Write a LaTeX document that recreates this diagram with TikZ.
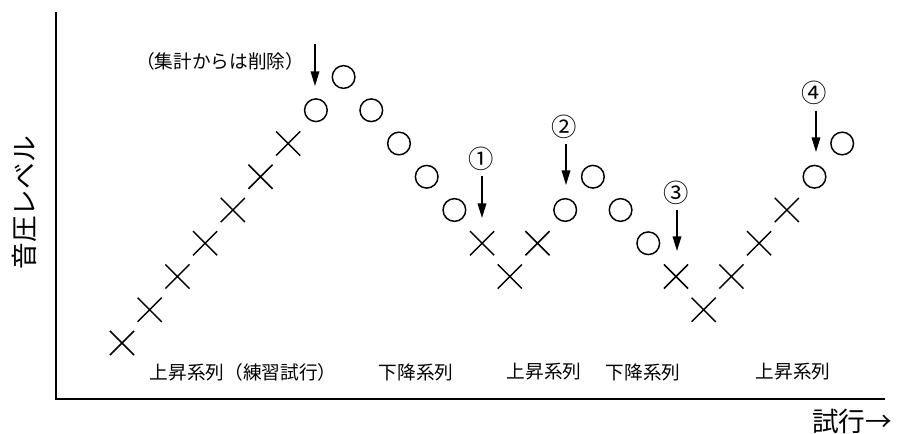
\documentclass[tikz,border=0pt]{standalone}
\usepackage{fontspec}
\setmainfont{Noto Sans CJK JP}
\usetikzlibrary{shapes.misc,arrows.meta}
\begin{document}
\begin{tikzpicture}[x=0.75pt,y=-0.75pt,
  xmark/.style={draw,cross out,minimum size=17pt,inner sep=0pt,line width=1.1pt},
  omark/.style={draw,circle,minimum size=17pt,inner sep=0pt,line width=1.1pt},
  axisline/.style={line width=1.4pt},
  pointer/.style={line width=1.1pt,-{Triangle[length=11pt,width=6.5pt]}},
  lab/.style={font=\fontsize{14}{16}\selectfont,inner sep=0pt},
  numlab/.style={font=\fontsize{19}{21}\selectfont,inner sep=0pt},
  biglab/.style={font=\fontsize{20}{22}\selectfont,inner sep=0pt}]
\useasboundingbox (0,0) rectangle (897,434);
% axes
\coordinate (origin) at (56,399);
\coordinate (ytop) at (56,12);
\coordinate (xend) at (885,399);
\draw[axisline] (ytop) -- (origin) -- (xend);
% markers
\foreach \i/\l/\t in {0/0/x,1/1/x,2/2/x,3/3/x,4/4/x,5/5/x,6/6/x,7/7/o,8/8/o,9/7/o,10/6/o,11/5/o,12/4/o,13/3/x,14/2/x,15/3/x,16/4/o,17/5/o,18/4/o,19/3/o,20/2/x,21/1/x,22/2/x,23/3/x,24/4/x,25/5/o,26/6/o}{
  \node[\t mark] (m\i) at ({122+27.7*\i},{343-33.25*\l}) {};
}
% annotations
\node[lab] (excl) at (220,61) {（集計からは削除）};
\coordinate (a0s) at (315,44);
\coordinate (a0e) at (315,86);
\draw[pointer] (a0s) -- (a0e);
\node[numlab] (n1) at (481,159) {①};
\coordinate (a1s) at (482,176);
\coordinate (a1e) at (482,218);
\draw[pointer] (a1s) -- (a1e);
\node[numlab] (n2) at (564,127) {②};
\coordinate (a2s) at (566,144);
\coordinate (a2e) at (566,185);
\draw[pointer] (a2s) -- (a2e);
\node[numlab] (n3) at (676,193) {③};
\coordinate (a3s) at (677,210);
\coordinate (a3e) at (677,251);
\draw[pointer] (a3s) -- (a3e);
\node[numlab] (n4) at (814,93) {④};
\coordinate (a4s) at (816,111);
\coordinate (a4e) at (816,152);
\draw[pointer] (a4s) -- (a4e);
% series labels
\node[lab] (s1) at (243,372) {上昇系列（練習試行）};
\node[lab] (s2) at (416,372) {下降系列};
\node[lab] (s3) at (544,372) {上昇系列};
\node[lab] (s4) at (643,372) {下降系列};
\node[lab] (s5) at (793,372) {上昇系列};
% axis labels
\node[biglab,rotate=90] (ylab) at (24,203) {音圧レベル};
\node[biglab] (xlab) at (852,421) {試行→};
\end{tikzpicture}
\end{document}
